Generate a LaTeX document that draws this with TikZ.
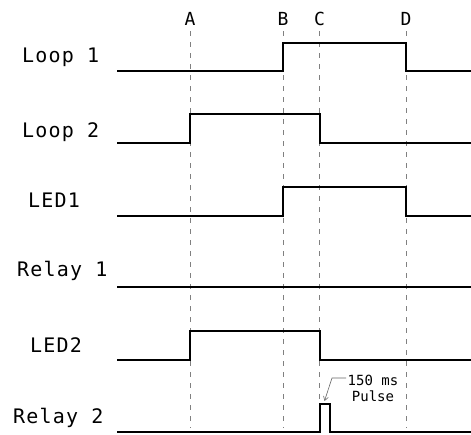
\documentclass[tikz,border=0pt]{standalone}
\usepackage{fontspec}
\usetikzlibrary{arrows.meta}
\newfontfamily\lblfont[LetterSpace=6]{DejaVu Sans Mono}
\newfontfamily\smallfont{DejaVu Sans Mono}
\begin{document}
\begin{tikzpicture}[x=1pt,y=-1pt,
  sig/.style={line width=2pt, line join=miter},
  gridline/.style={gray, line width=0.7pt, dash pattern=on 5pt off 6pt},
  lbl/.style={anchor=base west, inner sep=0pt, font=\lblfont\fontsize{20}{22}\selectfont},
  tmark/.style={anchor=base, inner sep=0pt, font=\smallfont\fontsize{18}{20}\selectfont},
  note/.style={inner sep=0pt, align=center, font=\smallfont\fontsize{14}{15.5}\selectfont},
  leader/.style={gray!80!black, line width=0.6pt, -{Straight Barb[length=4pt,width=5pt]}}]
\useasboundingbox (0,0) rectangle (471,434);
% time markers
\foreach \n/\x in {A/190,B/283,C/319.5,D/406}{
  \node[tmark] (m\n) at (\x,25) {\n};
  \draw[gridline] (\x,31) -- (\x,428);
}
% labels
\node[lbl] (l1) at (22,62) {Loop 1};
\node[lbl] (l2) at (22,137) {Loop 2};
\node[lbl] (l3) at (28,207) {LED1};
\node[lbl] (l4) at (17,276) {Relay 1};
\node[lbl] (l5) at (30,352) {LED2};
\node[lbl] (l6) at (13,423) {Relay 2};
% waveforms
\draw[sig] (117,71) -- (283,71) -- (283,43) -- (406,43) -- (406,71) -- (471,71);
\draw[sig] (117,143) -- (190,143) -- (190,114) -- (319.5,114) -- (319.5,143) -- (471,143);
\draw[sig] (117,215.5) -- (283,215.5) -- (283,187) -- (406,187) -- (406,215.5) -- (471,215.5);
\draw[sig] (117,286.5) -- (471,286.5);
\draw[sig] (117,360) -- (190,360) -- (190,331) -- (319.5,331) -- (319.5,360) -- (471,360);
\draw[sig] (117,432) -- (319.5,432) -- (319.5,403.5) -- (330,403.5) -- (330,432) -- (471,432);
% pulse note
\node[note] (pn) at (373,388.5) {150 ms\\Pulse};
\coordinate (ls) at (346,378);
\coordinate (lk) at (332,378);
\coordinate (lt) at (324.5,401);
\draw[leader] (ls) -- (lk) -- (lt);
\end{tikzpicture}
\end{document}
